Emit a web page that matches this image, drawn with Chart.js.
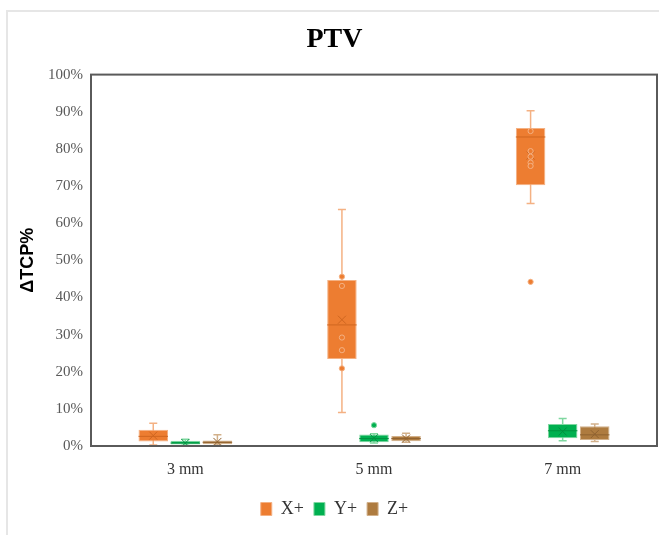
<!DOCTYPE html>
<html>
<head>
    <title>PTV</title>
    <script src="https://cdn.jsdelivr.net/npm/chart.js"></script>
    <style>
        body { margin: 0; background: #fff; }
        #frame { position: absolute; left: 6px; top: 10px; right: 0; bottom: 0;
                 border-left: 2px solid #e6e6e6; border-top: 2px solid #e6e6e6; }
        #boxChart { position: absolute; left: 0; top: 0; }
    </style>
</head>
<body>
    <div id="frame"></div>
    <canvas id="boxChart" width="659" height="535"></canvas>

    <script>
        // categories and series
        const categories = ['3 mm', '5 mm', '7 mm'];
        const seriesNames = ['X+', 'Y+', 'Z+'];
        const yTicks = [0, 10, 20, 30, 40, 50, 60, 70, 80, 90, 100];

        // X+ box stats (%)
        const xMin = [0.3, 9.0, 65.3];
        const xQ1 = [1.2, 23.4, 70.2];
        const xMedian = [2.6, 32.6, 83.2];
        const xQ3 = [4.4, 44.7, 85.6];
        const xMax = [6.1, 63.7, 90.3];
        const xMean = [2.8, 34.0, 78.2];
        const xPoints = [[], [45.6, 43.1, 29.2, 25.8, 20.9], [84.8, 79.4, 77.9, 76.3, 75.4, 44.2]];

        // Y+ box stats (%)
        const yMin = [0.2, 0.8, 1.4];
        const yQ1 = [0.4, 1.0, 2.1];
        const yMedian = [0.8, 2.0, 4.1];
        const yQ3 = [1.4, 3.1, 5.9];
        const yMax = [1.8, 3.3, 7.4];
        const yMean = [0.8, 2.1, 3.9];
        const yPoints = [[], [5.6], []];

        // Z+ box stats (%)
        const zMin = [0.3, 1.0, 1.2];
        const zQ1 = [0.5, 1.3, 1.6];
        const zMedian = [1.0, 2.0, 3.0];
        const zQ3 = [1.5, 2.7, 5.3];
        const zMax = [3.0, 3.4, 5.9];
        const zMean = [1.1, 2.0, 3.2];
        const zPoints = [[], [], []];

        const colors = ['#ED7D31', '#00B050', '#AE7B3F'];
        const lightColors = ['#F4B183', '#7fd7a0', '#d2b08a'];
        const darkColors = ['#cf6620', '#00913f', '#8f6230'];

        const stats = [
            { min: xMin, q1: xQ1, med: xMedian, q3: xQ3, max: xMax, mean: xMean, pts: xPoints },
            { min: yMin, q1: yQ1, med: yMedian, q3: yQ3, max: yMax, mean: yMean, pts: yPoints },
            { min: zMin, q1: zQ1, med: zMedian, q3: zQ3, max: zMax, mean: zMean, pts: zPoints }
        ];

        // whiskers, medians, means and points drawn around the floating bars
        const boxExtras = {
            id: 'boxExtras',
            beforeDatasetsDraw(chart) {
                const ctx = chart.ctx, ys = chart.scales.y;
                stats.forEach((s, i) => {
                    chart.getDatasetMeta(i).data.forEach((bar, j) => {
                        const top = ys.getPixelForValue(s.max[j]);
                        const bot = ys.getPixelForValue(s.min[j]);
                        ctx.save();
                        ctx.strokeStyle = lightColors[i];
                        ctx.lineWidth = 1.5;
                        ctx.beginPath();
                        ctx.moveTo(bar.x, top); ctx.lineTo(bar.x, bot);
                        ctx.moveTo(bar.x - 4, top); ctx.lineTo(bar.x + 4, top);
                        ctx.moveTo(bar.x - 4, bot); ctx.lineTo(bar.x + 4, bot);
                        ctx.stroke();
                        ctx.restore();
                    });
                });
            },
            afterDatasetsDraw(chart) {
                const ctx = chart.ctx, ys = chart.scales.y, a = chart.chartArea;
                stats.forEach((s, i) => {
                    chart.getDatasetMeta(i).data.forEach((bar, j) => {
                        const half = bar.width / 2;
                        ctx.save();
                        ctx.strokeStyle = darkColors[i];
                        ctx.lineWidth = 1;
                        // median
                        const my = ys.getPixelForValue(s.med[j]);
                        ctx.beginPath();
                        ctx.moveTo(bar.x - half, my); ctx.lineTo(bar.x + half, my);
                        ctx.stroke();
                        // mean as an x
                        const mn = ys.getPixelForValue(s.mean[j]);
                        ctx.beginPath();
                        ctx.moveTo(bar.x - 4, mn - 4); ctx.lineTo(bar.x + 4, mn + 4);
                        ctx.moveTo(bar.x + 4, mn - 4); ctx.lineTo(bar.x - 4, mn + 4);
                        ctx.stroke();
                        // individual points
                        ctx.fillStyle = colors[i];
                        ctx.strokeStyle = lightColors[i];
                        s.pts[j].forEach(v => {
                            const py = ys.getPixelForValue(v);
                            ctx.beginPath();
                            ctx.arc(bar.x, py, 2.6, 0, Math.PI * 2);
                            ctx.fill();
                            ctx.stroke();
                        });
                        ctx.restore();
                    });
                });
                // plot border
                ctx.save();
                ctx.strokeStyle = '#5a5a5a';
                ctx.lineWidth = 2;
                ctx.strokeRect(a.left, a.top, a.right - a.left, a.bottom - a.top);
                ctx.restore();
            }
        };

        new Chart(document.getElementById('boxChart'), {
            type: 'bar',
            data: {
                labels: categories,
                datasets: seriesNames.map((name, i) => ({
                    label: name,
                    data: stats[i].q1.map((q, j) => [q, stats[i].q3[j]]),
                    backgroundColor: colors[i],
                    borderColor: lightColors[i],
                    borderWidth: 1,
                    borderSkipped: false,
                    categoryPercentage: 0.51,
                    barPercentage: 0.92
                }))
            },
            options: {
                responsive: false,
                animation: false,
                layout: { padding: { left: 12, right: 2, top: 0, bottom: 7 } },
                plugins: {
                    title: {
                        display: true,
                        text: 'PTV',
                        color: '#000',
                        font: { family: 'Liberation Serif', size: 28, weight: 'bold' },
                        padding: { top: 23, bottom: 18 }
                    },
                    legend: {
                        position: 'bottom',
                        labels: {
                            color: '#333',
                            font: { family: 'Liberation Serif', size: 18 },
                            boxWidth: 11,
                            boxHeight: 13,
                            padding: 10
                        }
                    },
                    tooltip: { enabled: false }
                },
                scales: {
                    x: {
                        grid: { display: false, drawTicks: false },
                        border: { display: false },
                        ticks: {
                            color: '#333',
                            font: { family: 'Liberation Serif', size: 16 },
                            padding: 14
                        },
                        afterFit(s) { s.height = 44; }
                    },
                    y: {
                        min: 0,
                        max: 100,
                        afterBuildTicks(s) { s.ticks = yTicks.map(v => ({ value: v })); },
                        grid: { display: false, drawTicks: false },
                        border: { display: false },
                        ticks: {
                            color: '#595959',
                            font: { family: 'Liberation Serif', size: 15 },
                            padding: 8,
                            callback: v => v + '%'
                        },
                        title: {
                            display: true,
                            text: 'ΔTCP%',
                            color: '#000',
                            font: { family: 'Liberation Sans', size: 18, weight: 'bold' },
                            padding: { top: 5 }
                        },
                        afterFit(s) { s.width = 79; }
                    }
                }
            },
            plugins: [boxExtras]
        });
    </script>
</body>
</html>
